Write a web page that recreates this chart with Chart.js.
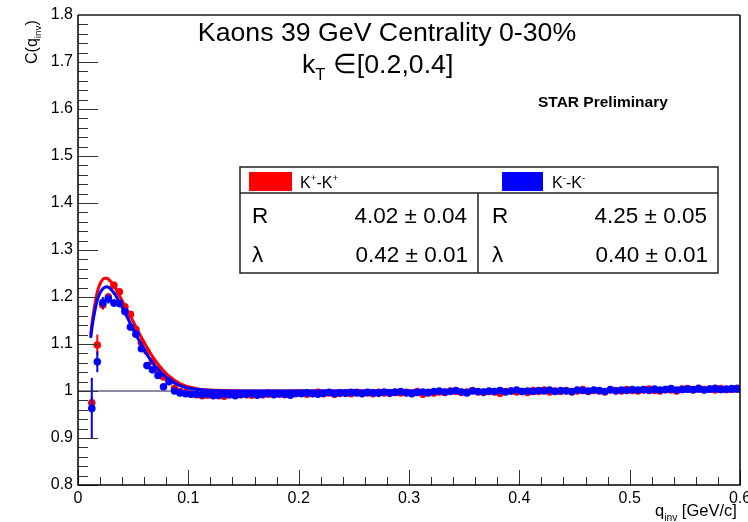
<!DOCTYPE html>
<html>
<head>
<meta charset="utf-8">
<script src="https://cdn.jsdelivr.net/npm/chart.js@4.4.0/dist/chart.umd.min.js"></script>
<style>
  html, body { margin: 0; padding: 0; background: #fff; }
  #wrap { width: 748px; height: 522px; }
</style>
</head>
<body>
<div id="wrap"><canvas id="cf" width="748" height="522"></canvas></div>
<script>
// q_inv histogram binning (GeV/c)
const binLow = 0.01;
const binWidth = 0.005;

// K+K+ correlation function, one value per bin
const redC = [
  0.975, 1.098, 1.183, 1.200, 1.225, 1.211, 1.179, 1.163, 1.131, 1.103,
  1.084, 1.063, 1.046, 1.030, 1.020, 1.006, 0.999, 0.996, 0.993,
  0.992, 0.990, 0.991, 0.993, 0.990, 0.989, 0.992, 0.991, 0.993, 0.992,
  0.991, 0.994, 0.992, 0.993, 0.995, 0.993, 0.992, 0.995, 0.994, 0.996,
  0.993, 0.995, 0.997, 0.994, 0.996, 0.993, 0.995, 0.996, 0.994, 0.997,
  0.995, 0.996, 0.994, 0.997, 0.996, 0.995, 0.998, 0.996, 0.997, 0.995,
  0.999, 0.993, 0.997, 0.996, 0.998, 0.997, 1.000, 0.999, 0.997, 0.998,
  1.001, 0.998, 0.997, 0.999, 0.998, 0.995, 0.999, 1.000, 0.998, 0.999,
  0.997, 1.001, 0.999, 1.002, 0.998, 1.000, 0.999, 1.001, 0.998, 1.000,
  1.003, 0.999, 1.001, 1.000, 0.998, 1.002, 1.001, 1.000, 1.003, 1.001,
  1.000, 1.002, 1.004, 1.001, 1.000, 1.003, 1.002, 1.000, 1.004, 1.005,
  1.002, 1.006, 1.003, 1.004, 1.002, 1.005, 1.003, 1.004, 1.006
];
// visible error bars (first bins only)
const redErr = [
  0.012, 0.022, 0.010, 0.008, 0.007, 0.006, 0.006, 0.005, 0.005, 0.005,
  0.004, 0.004, 0.004, 0.004, 0.004, 0.003, 0.003, 0.003, 0.003
];

// K-K- correlation function
const blueC = [
  0.963, 1.062, 1.188, 1.196, 1.187, 1.186, 1.169, 1.136, 1.121, 1.090,
  1.054, 1.045, 1.033, 1.009, 1.020, 1.000, 0.996, 0.994, 0.993,
  0.993, 0.992, 0.994, 0.990, 0.991, 0.993, 0.992, 0.990, 0.992, 0.993,
  0.994, 0.991, 0.993, 0.995, 0.992, 0.994, 0.993, 0.991, 0.995, 0.994,
  0.996, 0.994, 0.993, 0.995, 0.997, 0.994, 0.996, 0.995, 0.997, 0.996,
  0.994, 0.997, 0.996, 0.995, 0.998, 0.996, 0.997, 0.999, 0.996, 0.994,
  0.997, 0.998, 0.996, 0.999, 1.000, 0.998, 0.999, 1.001, 0.998, 0.996,
  1.000, 0.999, 0.998, 1.000, 0.999, 1.001, 0.998, 1.000, 1.002, 0.999,
  1.000, 0.999, 1.001, 1.000, 1.002, 0.999, 1.001, 1.000, 0.999, 1.002,
  1.001, 1.000, 1.002, 1.001, 0.999, 1.003, 1.000, 1.002, 1.001, 1.003,
  1.002, 1.003, 1.001, 1.004, 1.002, 1.003, 1.005, 1.002, 1.003, 1.004,
  1.003, 1.005, 1.002, 1.004, 1.006, 1.003, 1.004, 1.005, 1.005
];
const blueErr = [
  0.065, 0.022, 0.012, 0.010, 0.008, 0.007, 0.006, 0.005, 0.005, 0.005,
  0.004, 0.004, 0.004, 0.004, 0.004, 0.003, 0.003, 0.003, 0.003
];

// fit curves
const redFitQ = [0.0115, 0.0125, 0.0135, 0.015, 0.0165, 0.018, 0.02, 0.022, 0.024, 0.026,
  0.028, 0.030, 0.033, 0.036, 0.040, 0.045, 0.050, 0.055, 0.060, 0.065,
  0.070, 0.075, 0.080, 0.085, 0.090, 0.095, 0.100, 0.110, 0.120, 0.140, 0.160, 0.600];
const redFitC = [1.119, 1.140, 1.158, 1.180, 1.200, 1.215, 1.228, 1.236, 1.240, 1.240,
  1.237, 1.232, 1.222, 1.210, 1.192, 1.170, 1.148, 1.125, 1.103, 1.083,
  1.065, 1.050, 1.037, 1.027, 1.019, 1.013, 1.009, 1.004, 1.002, 1.0005, 1.000, 1.000];
const blueFitQ = redFitQ;
const blueFitC = [1.113, 1.132, 1.148, 1.167, 1.184, 1.197, 1.209, 1.216, 1.220, 1.222,
  1.220, 1.216, 1.207, 1.196, 1.178, 1.155, 1.132, 1.109, 1.088, 1.069,
  1.053, 1.040, 1.029, 1.021, 1.014, 1.009, 1.006, 1.003, 1.001, 1.000, 1.000, 1.000];

// axes
const xTicks = [0, 0.1, 0.2, 0.3, 0.4, 0.5, 0.6];
const xTickLabels = ['0', '0.1', '0.2', '0.3', '0.4', '0.5', '0.6'];
const yTicks = [0.8, 0.9, 1.0, 1.1, 1.2, 1.3, 1.4, 1.5, 1.6, 1.7, 1.8];
const yTickLabels = ['0.8', '0.9', '1', '1.1', '1.2', '1.3', '1.4', '1.5', '1.6', '1.7', '1.8'];

const RED = '#ff0000';
const BLUE = '#0000ff';
const FONT = '"Liberation Sans", Arial, Helvetica, sans-serif';

function toPoints(xs, ys) {
  return ys.map((v, i) => ({ x: xs[i], y: v }));
}
function binPoints(vals) {
  return vals.map((v, i) => ({ x: binLow + binWidth * (i + 0.5), y: v }));
}
function labelFor(list, labels, v) {
  const i = list.findIndex(t => Math.abs(t - v) < 1e-9);
  return i >= 0 ? labels[i] : '';
}

// draws text with a sub/superscript piece, returns end x
function runText(ctx, parts, x, y, size) {
  parts.forEach(p => {
    const s = p.sub || p.sup ? size * 0.62 : size;
    ctx.font = s + 'px ' + FONT;
    const dy = p.sub ? size * 0.28 : (p.sup ? -size * 0.42 : 0);
    ctx.fillText(p.t, x, y + dy);
    x += ctx.measureText(p.t).width;
  });
  return x;
}

const rootStyle = {
  id: 'rootStyle',
  beforeDatasetDraw(chart, args) {
    const ds = chart.data.datasets[args.index];
    if (!ds.errs) return;
    const ctx = chart.ctx, xs = chart.scales.x, ys = chart.scales.y;
    ctx.save();
    ctx.strokeStyle = ds.backgroundColor;
    ctx.lineWidth = 2;
    ds.errs.forEach((e, i) => {
      const p = ds.data[i];
      const px = xs.getPixelForValue(p.x);
      ctx.beginPath();
      ctx.moveTo(px, ys.getPixelForValue(p.y - e));
      ctx.lineTo(px, ys.getPixelForValue(p.y + e));
      ctx.stroke();
    });
    ctx.restore();
  },
  afterDatasetsDraw(chart) {
    const ctx = chart.ctx, xs = chart.scales.x, ys = chart.scales.y;
    const a = chart.chartArea;
    ctx.save();

    // inner ticks
    ctx.strokeStyle = '#333';
    ctx.lineWidth = 1;
    const yStep = (yTicks[1] - yTicks[0]) / 5;
    for (let i = 0; i < yTicks.length; i++) {
      const py = Math.round(ys.getPixelForValue(yTicks[i])) + 0.5;
      ctx.beginPath(); ctx.moveTo(a.left, py); ctx.lineTo(a.left + 20, py); ctx.stroke();
      if (i === yTicks.length - 1) break;
      for (let k = 1; k < 5; k++) {
        const pm = Math.round(ys.getPixelForValue(yTicks[i] + k * yStep)) + 0.5;
        ctx.beginPath(); ctx.moveTo(a.left, pm); ctx.lineTo(a.left + 10, pm); ctx.stroke();
      }
    }
    const xStep = (xTicks[1] - xTicks[0]) / 5;
    for (let i = 0; i < xTicks.length; i++) {
      const px = Math.round(xs.getPixelForValue(xTicks[i])) + 0.5;
      ctx.beginPath(); ctx.moveTo(px, a.bottom); ctx.lineTo(px, a.bottom - 15); ctx.stroke();
      if (i === xTicks.length - 1) break;
      for (let k = 1; k < 5; k++) {
        const pm = Math.round(xs.getPixelForValue(xTicks[i] + k * xStep)) + 0.5;
        ctx.beginPath(); ctx.moveTo(pm, a.bottom); ctx.lineTo(pm, a.bottom - 8); ctx.stroke();
      }
    }

    // frame
    ctx.strokeStyle = '#555';
    ctx.lineWidth = 2;
    ctx.beginPath(); ctx.moveTo(a.left, a.top); ctx.lineTo(a.right, a.top); ctx.stroke();
    ctx.strokeStyle = '#000';
    ctx.lineWidth = 1.5;
    ctx.beginPath();
    ctx.moveTo(a.right, a.top); ctx.lineTo(a.right, a.bottom);
    ctx.lineTo(a.left, a.bottom); ctx.lineTo(a.left, a.top);
    ctx.stroke();

    ctx.fillStyle = '#000';
    ctx.textBaseline = 'alphabetic';

    // titles
    ctx.textAlign = 'center';
    ctx.font = '26.7px ' + FONT;
    ctx.fillText('Kaons 39 GeV Centrality 0-30%', 387, 41);
    ctx.textAlign = 'left';
    runText(ctx, [{ t: 'k' }, { t: 'T', sub: true }, { t: ' \u2208[0.2,0.4]' }], 302, 73, 26.7);
    ctx.font = 'bold 15.5px ' + FONT;
    ctx.fillText('STAR Preliminary', 538, 107);

    // legend table
    ctx.fillStyle = '#fff';
    ctx.fillRect(240, 167, 478, 106);
    ctx.strokeStyle = '#222';
    ctx.lineWidth = 1.5;
    ctx.strokeRect(240, 167, 478, 106);
    ctx.beginPath();
    ctx.moveTo(240, 193); ctx.lineTo(718, 193);
    ctx.moveTo(478, 193); ctx.lineTo(478, 273);
    ctx.stroke();
    ctx.fillStyle = RED; ctx.fillRect(249, 172, 43, 19);
    ctx.fillStyle = BLUE; ctx.fillRect(502, 172, 41, 19);
    ctx.fillStyle = '#000';
    runText(ctx, [{ t: 'K' }, { t: '+', sup: true }, { t: '-K' }, { t: '+', sup: true }], 300, 188, 16);
    runText(ctx, [{ t: 'K' }, { t: '-', sup: true }, { t: '-K' }, { t: '-', sup: true }], 552, 188, 16);
    ctx.font = '22.5px ' + FONT;
    ctx.fillText('R', 252, 223);
    ctx.fillText('\u03bb', 252, 262);
    ctx.fillText('R', 492, 223);
    ctx.fillText('\u03bb', 492, 262);
    ctx.textAlign = 'right';
    ctx.fillText('4.02 \u00b1 0.04', 467, 223);
    ctx.fillText('0.42 \u00b1 0.01', 468, 262);
    ctx.fillText('4.25 \u00b1 0.05', 707, 223);
    ctx.fillText('0.40 \u00b1 0.01', 708, 262);

    // axis titles
    ctx.textAlign = 'left';
    ctx.save();
    ctx.translate(37, 64);
    ctx.rotate(-Math.PI / 2);
    runText(ctx, [{ t: 'C(q' }, { t: 'inv', sub: true }, { t: ')' }], 0, 0, 16);
    ctx.restore();
    runText(ctx, [{ t: 'q' }, { t: 'inv', sub: true }, { t: ' [GeV/c]' }], 655, 516, 16.5);

    ctx.restore();
  }
};

new Chart(document.getElementById('cf'), {
  type: 'scatter',
  data: {
    datasets: [
      { data: toPoints(blueFitQ, blueFitC), showLine: true, borderColor: BLUE, borderWidth: 3,
        pointRadius: 0, cubicInterpolationMode: 'monotone' },
      { data: binPoints(blueC), errs: blueErr, backgroundColor: BLUE, borderWidth: 0, pointRadius: 3.8 },
      { data: toPoints(redFitQ, redFitC), showLine: true, borderColor: RED, borderWidth: 3,
        pointRadius: 0, cubicInterpolationMode: 'monotone' },
      { data: binPoints(redC), errs: redErr, backgroundColor: RED, borderWidth: 0, pointRadius: 3.8 },
      { data: [{ x: 0, y: 1 }, { x: 0.6, y: 1 }], showLine: true, borderColor: '#15154a',
        borderWidth: 1, pointRadius: 0 }
    ]
  },
  options: {
    responsive: false,
    animation: false,
    events: [],
    layout: { padding: { top: 15, right: 8, left: 0, bottom: 0 } },
    plugins: { legend: { display: false }, tooltip: { enabled: false } },
    scales: {
      x: {
        type: 'linear', min: 0, max: 0.6,
        grid: { display: false, drawTicks: false },
        border: { display: false },
        afterBuildTicks: s => { s.ticks = xTicks.map(v => ({ value: v })); },
        afterFit: s => { s.height = 37; s.paddingLeft = 0; s.paddingRight = 0; },
        ticks: {
          autoSkip: false, maxRotation: 0, padding: 4, color: '#000',
          font: { family: FONT, size: 16 },
          callback: v => labelFor(xTicks, xTickLabels, v)
        }
      },
      y: {
        type: 'linear', min: 0.8, max: 1.8,
        grid: { display: false, drawTicks: false },
        border: { display: false },
        afterBuildTicks: s => { s.ticks = yTicks.map(v => ({ value: v })); },
        afterFit: s => { s.width = 78; s.paddingTop = 0; s.paddingBottom = 0; },
        ticks: {
          autoSkip: false, padding: 5, color: '#000',
          font: { family: FONT, size: 16 },
          callback: v => labelFor(yTicks, yTickLabels, v)
        }
      }
    }
  },
  plugins: [rootStyle]
});
</script>
</body>
</html>
